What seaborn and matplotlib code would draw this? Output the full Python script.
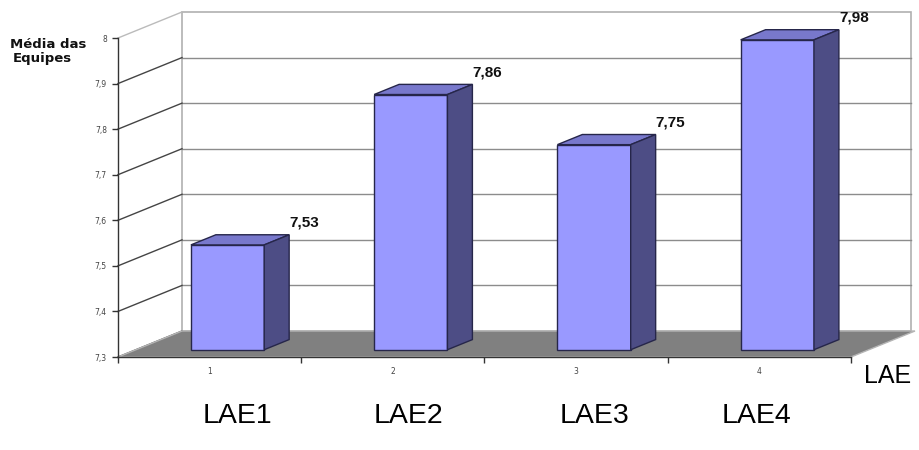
import matplotlib
matplotlib.use("Agg")
import numpy as np
import matplotlib.pyplot as plt
import seaborn as sns
from matplotlib.patches import Polygon
from matplotlib.lines import Line2D
from matplotlib.transforms import IdentityTransform, ScaledTranslation

# ---- data ----
categories = ["1", "2", "3", "4"]
medias = [7.53, 7.86, 7.75, 7.98]
value_labels = ["7,53", "7,86", "7,75", "7,98"]
yticks = [7.3, 7.4, 7.5, 7.6, 7.7, 7.8, 7.9, 8.0]
ytick_labels = ["7,3", "7,4", "7,5", "7,6", "7,7", "7,8", "7,9", "8"]
team_names = ["LAE1", "LAE2", "LAE3", "LAE4"]
y_title_lines = ["Média das", "Equipes"]
x_title = "LAE"

# ---- styling ----
FRONT = "#9999FF"
SIDE = "#4D4D85"
TOP = "#7878CC"
EDGE = "#26264A"
FLOOR = "#808080"
W, H = 920, 450
DEPTH = np.array([64.0, 26.0])     # depth vector of the 3D box, in pixels
F0, F1 = 0.28, 0.67                # front / back of the bars along the depth

fig = plt.figure(figsize=(W / 100, H / 100), dpi=100)
fig.patch.set_facecolor("white")
ax = fig.add_axes([118 / W, (H - 357) / H, (851 - 118) / W, (357 - 38) / H])
ax.patch.set_visible(False)

sns.barplot(x=categories, y=medias, ax=ax, color=FRONT, saturation=1,
            width=0.4, edgecolor=EDGE, linewidth=1.0, zorder=5)

ax.set_xlim(-0.5, 3.5)
ax.set_ylim(yticks[0], yticks[-1])
fig.canvas.draw()

base = yticks[0]
to_disp = ax.transData.transform


def P(x, y, f):
    return to_disp((x, y)) + f * DEPTH


def poly(pts, **kw):
    p = Polygon(np.array(pts), closed=True, transform=IdentityTransform(),
                clip_on=False, **kw)
    ax.add_artist(p)
    return p


def seg(a, b, **kw):
    ax.add_artist(Line2D([a[0], b[0]], [a[1], b[1]], transform=IdentityTransform(),
                         clip_on=False, **kw))


x0, x1 = -0.5, 3.5
# back wall
poly([P(x0, base, 1), P(x1 - 0.02, base, 1), P(x1 - 0.02, yticks[-1], 1), P(x0, yticks[-1], 1)],
     facecolor="white", edgecolor="#B0B0B0", linewidth=1.2, zorder=1)
for v in yticks[1:-1]:
    seg(P(x0, v, 1), P(x1 - 0.02, v, 1), color="#8C8C8C", lw=1.0, zorder=1.2)
# side wall lines
for v in yticks:
    col = "#BBBBBB" if v == yticks[-1] else "#444444"
    seg(P(x0, v, 0), P(x0, v, 1), color=col, lw=1.0, zorder=1.3)
# floor
poly([P(x0, base, 0), P(x1, base, 0), P(x1, base, 1), P(x0, base, 1)],
     facecolor=FLOOR, edgecolor="#B5B5B5", linewidth=1.0, zorder=1.5)

# bars: front faces from seaborn, pushed back in depth; tops and sides added
shift = ScaledTranslation(F0 * DEPTH[0] / 100, F0 * DEPTH[1] / 100, fig.dpi_scale_trans)
for patch, lab in zip(ax.patches, value_labels):
    val = patch.get_height()
    patch.set_y(base)
    patch.set_height(val - base)
    patch.set_transform(ax.transData + shift)
    patch.set_clip_on(False)
    bx0 = patch.get_x()
    bx1 = bx0 + patch.get_width()
    poly([P(bx0, val, F0), P(bx1, val, F0), P(bx1, val, F1), P(bx0, val, F1)],
         facecolor=TOP, edgecolor=EDGE, linewidth=1.0, zorder=5)
    poly([P(bx1, base, F0), P(bx1, val, F0), P(bx1, val, F1), P(bx1, base, F1)],
         facecolor=SIDE, edgecolor=EDGE, linewidth=1.0, zorder=5)
    c = P(bx1, val, F1)
    ax.text(c[0] + 15, c[1] + 12, lab, transform=IdentityTransform(),
            ha="center", va="center", fontsize=11, fontweight="bold",
            family=["Liberation Sans Narrow", "Liberation Sans", "DejaVu Sans"],
            color="#111111", clip_on=False, zorder=6)

# axes: front spines and ticks
for s in ["top", "right"]:
    ax.spines[s].set_visible(False)
for s in ["left", "bottom"]:
    ax.spines[s].set_color("#333333")
    ax.spines[s].set_linewidth(1.0)
    ax.spines[s].set_zorder(2)
ax.set_yticks(yticks)
ax.set_yticklabels(ytick_labels)
ax.tick_params(axis="y", length=4, width=1, color="#333333", pad=4,
               labelsize=5.5, labelcolor="#444444")
ax.set_xticks([-0.5, 0.5, 1.5, 2.5, 3.5])
ax.set_xticklabels([])
ax.tick_params(axis="x", which="major", length=4, width=1, color="#333333")
ax.set_xticks(range(len(categories)), minor=True)
ax.set_xticklabels(categories, minor=True)
ax.tick_params(axis="x", which="minor", length=0, pad=7,
               labelsize=5.5, labelcolor="#444444")
ax.set_xlabel("")
ax.set_ylabel("")

# titles
fig.text(10 / W, 1 - 48 / H, y_title_lines[0], ha="left", va="baseline",
         fontsize=9.5, fontweight="bold", family=["DejaVu Sans"], color="#111111")
fig.text(13 / W, 1 - 62 / H, y_title_lines[1], ha="left", va="baseline",
         fontsize=9.5, fontweight="bold", family=["DejaVu Sans"], color="#111111")
fig.text(864 / W, 1 - 383 / H, x_title, ha="left", va="baseline", fontsize=18,
         family=["Liberation Sans", "DejaVu Sans"], color="black")

# team names underneath
for name, xc in zip(team_names, [237, 408, 595, 757]):
    fig.text(xc / W, 1 - 423 / H, name, ha="center", va="baseline", fontsize=20.5,
             family=["Liberation Sans", "DejaVu Sans"], color="black")

fig.savefig("out.png", dpi=100, facecolor="white")
